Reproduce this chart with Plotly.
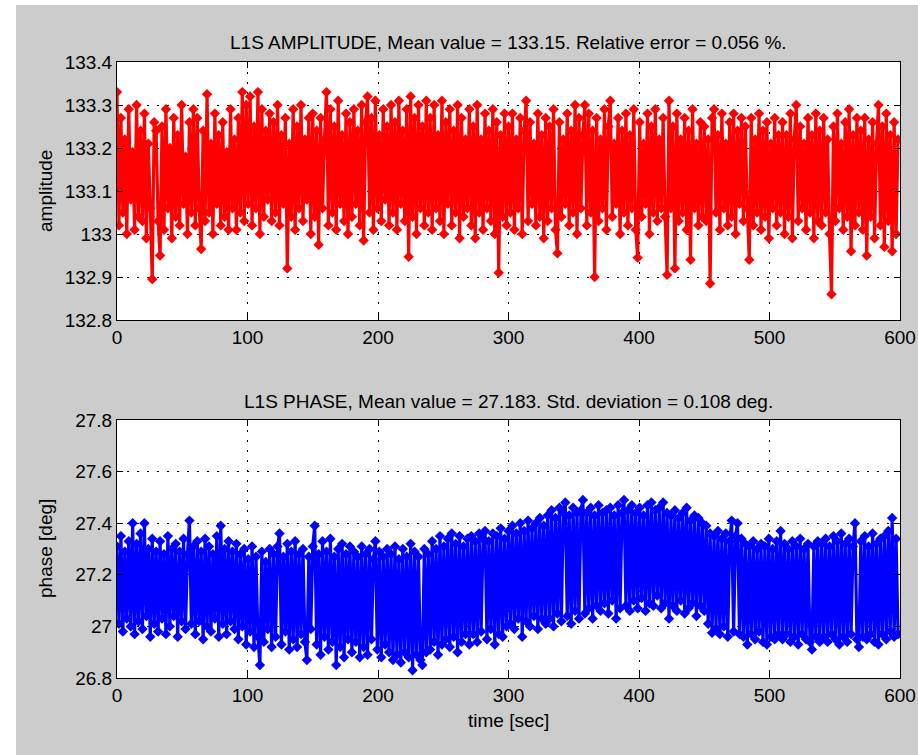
import numpy as np
import plotly.graph_objects as go

# ---------------- data (one sample every 1.5 s) ----------------
amplitude = [
    133.33, 133.02, 133.27, 133.05, 133.22, 133.00, 133.29, 133.08, 133.19, 133.01, 133.30, 133.04, 133.24, 133.03, 133.28, 132.99, 133.21, 133.06, 132.895, 133.26,
    133.24, 133.03, 132.95, 133.25, 133.01, 133.29, 133.06, 133.20, 132.99, 133.27, 133.04, 133.23, 133.02, 133.30, 133.07, 133.18, 133.00, 133.26, 133.05, 133.29,
    133.02, 133.27, 133.06, 132.965, 133.24, 133.03, 133.325, 133.05, 133.21, 133.00, 133.28, 133.07, 133.23, 133.02, 133.26, 133.04, 133.19, 133.01, 133.29, 133.06,
    133.22, 133.01, 133.27, 133.05, 133.33, 133.03, 133.30, 133.07, 133.32, 133.02, 133.25, 133.06, 133.33, 133.00, 133.29, 133.04, 133.24, 133.08, 133.28, 133.03,
    133.26, 133.05, 133.30, 133.02, 133.23, 133.07, 133.27, 132.92, 133.21, 133.04, 133.29, 133.01, 133.25, 133.06, 133.30, 133.03, 133.22, 133.08, 133.27, 133.00,
    133.28, 133.04, 133.24, 132.975, 133.27, 133.06, 133.22, 133.33, 133.02, 133.29, 133.05, 133.25, 133.01, 133.31, 133.07, 133.23, 133.03, 133.28, 133.00, 133.26,
    133.04, 133.29, 133.07, 133.24, 133.02, 133.30, 132.985, 133.26, 133.32, 133.05, 133.27, 133.01, 133.31, 133.06, 133.23, 133.03, 133.29, 133.08, 133.25, 133.02,
    133.30, 133.05, 133.26, 133.01, 133.31, 133.07, 133.24, 133.03, 133.29, 132.947, 133.32, 133.04, 133.27, 133.00, 133.30, 133.06, 133.25, 133.02, 133.31, 133.05,
    133.27, 133.01, 133.30, 133.06, 133.23, 133.03, 133.31, 133.00, 133.26, 133.07, 133.29, 133.02, 133.24, 133.05, 133.30, 132.99, 133.27, 133.04, 133.22, 133.06,
    133.29, 133.02, 133.25, 132.99, 133.30, 133.05, 133.22, 133.01, 133.28, 133.06, 133.24, 133.03, 133.29, 133.00, 133.26, 132.91, 133.23, 133.04, 133.28, 133.02,
    133.25, 133.05, 133.28, 133.01, 133.22, 133.06, 133.27, 133.00, 133.24, 133.31, 133.03, 133.26, 133.07, 133.21, 133.02, 133.28, 133.04, 133.23, 132.99, 133.27,
    133.03, 133.25, 133.06, 133.29, 133.01, 132.955, 133.26, 133.04, 133.22, 133.07, 133.28, 133.02, 133.24, 133.05, 133.30, 133.00, 133.27, 133.06, 133.23, 133.30,
    133.02, 133.28, 133.05, 133.24, 132.90, 133.27, 133.03, 133.22, 133.06, 133.29, 133.01, 133.25, 133.31, 133.04, 133.21, 133.07, 133.27, 133.00, 133.24, 133.05,
    133.28, 133.02, 133.23, 133.06, 133.29, 133.01, 132.945, 133.26, 133.04, 133.21, 133.07, 133.28, 133.00, 133.25, 133.05, 133.29, 133.03, 133.22, 133.06, 133.27,
    133.04, 132.905, 133.31, 133.06, 133.25, 132.92, 133.28, 133.03, 133.22, 133.05, 133.27, 133.01, 133.24, 132.94, 133.29, 133.06, 133.21, 133.02, 133.26, 133.04,
    133.25, 133.03, 133.22, 132.885, 133.27, 133.29, 133.05, 133.23, 133.01, 133.28, 133.06, 133.21, 133.02, 133.26, 133.04, 133.28, 133.00, 133.24, 133.07, 133.27,
    133.03, 133.25, 133.06, 132.94, 133.27, 133.02, 133.22, 133.05, 133.28, 133.01, 133.24, 133.04, 133.26, 132.99, 133.21, 133.06, 133.27, 133.02, 133.23, 133.05,
    133.26, 133.00, 133.23, 133.04, 133.28, 132.99, 133.22, 133.30, 133.03, 133.25, 133.06, 133.21, 133.01, 133.27, 133.05, 133.23, 132.99, 133.28, 133.03, 133.24,
    133.02, 133.27, 133.05, 133.22, 133.00, 132.86, 133.25, 133.03, 133.28, 133.06, 133.21, 133.01, 133.26, 133.04, 133.29, 132.96, 133.23, 133.02, 133.27, 133.05,
    133.24, 133.01, 133.27, 132.95, 133.22, 133.04, 133.26, 132.99, 133.21, 133.30, 133.02, 133.25, 132.97, 133.28, 133.03, 133.23, 132.96, 133.26, 133.00, 133.22,
]

phase = [
    27.31, 27.01, 27.35, 26.98, 27.29, 27.03, 27.33, 27.00, 27.40, 26.97, 27.32, 27.02, 27.36, 26.99, 27.40, 27.04, 27.30, 26.96, 27.34, 27.01,
    27.29, 26.98, 27.33, 27.03, 27.28, 26.97, 27.35, 27.00, 27.30, 27.04, 27.32, 26.96, 27.29, 27.02, 27.34, 26.99, 27.28, 27.41, 27.01, 27.31,
    26.97, 27.33, 27.02, 27.29, 26.95, 27.34, 27.00, 27.31, 26.98, 27.28, 27.03, 27.35, 26.96, 27.39, 27.01, 27.30, 26.97, 27.33, 27.02, 27.29,
    26.99, 27.32, 26.95, 27.28, 27.00, 27.30, 26.93, 27.26, 26.98, 27.31, 26.92, 27.27, 26.96, 26.85, 27.29, 26.94, 27.25, 26.99, 27.30, 26.92,
    27.28, 26.96, 27.31, 27.36, 26.93, 27.27, 26.98, 27.32, 26.91, 27.29, 26.95, 27.33, 26.92, 27.28, 26.97, 27.30, 26.94, 26.87, 27.27, 26.99,
    27.31, 27.39, 26.93, 27.28, 26.89, 27.33, 26.96, 27.29, 26.91, 27.34, 26.94, 27.27, 26.85, 27.30, 26.92, 27.32, 26.88, 27.28, 26.95, 27.31,
    26.90, 27.29, 26.94, 27.27, 26.88, 27.31, 26.92, 27.28, 26.89, 27.30, 26.95, 27.26, 27.33, 26.91, 27.29, 26.88, 27.27, 26.93, 27.30, 26.90,
    27.28, 26.87, 27.31, 26.89, 27.26, 26.86, 27.30, 26.90, 27.27, 26.88, 27.32, 26.83, 27.29, 26.89, 27.27, 26.87, 26.85, 27.30, 26.90, 27.28,
    26.91, 27.33, 26.94, 27.30, 26.89, 27.35, 26.93, 27.31, 26.95, 27.34, 26.92, 27.36, 26.96, 27.32, 26.90, 27.35, 26.94, 27.31, 26.97, 27.34,
    26.93, 27.35, 26.97, 27.33, 26.94, 27.36, 26.98, 27.34, 27.37, 26.95, 27.33, 26.99, 27.36, 26.93, 27.35, 26.97, 27.38, 26.96, 27.34, 27.00,
    27.37, 27.01, 27.39, 26.99, 27.36, 27.03, 27.40, 26.96, 27.37, 27.02, 27.41, 27.00, 27.38, 27.04, 27.40, 26.99, 27.42, 27.03, 27.39, 27.01,
    27.43, 27.03, 27.45, 27.00, 27.42, 27.05, 27.46, 27.02, 27.44, 27.48, 27.04, 27.43, 27.01, 27.46, 27.06, 27.44, 27.03, 27.45, 27.49, 27.05,
    27.44, 27.07, 27.46, 27.03, 27.43, 27.08, 27.47, 27.06, 27.44, 27.09, 27.45, 27.05, 27.46, 27.10, 27.43, 27.03, 27.47, 27.07, 27.44, 27.49,
    27.08, 27.45, 27.06, 27.47, 27.10, 27.44, 27.07, 27.46, 27.11, 27.43, 27.06, 27.47, 27.09, 27.48, 27.08, 27.45, 27.12, 27.46, 27.07, 27.48,
    27.09, 27.44, 27.03, 27.43, 27.08, 27.45, 27.06, 27.42, 27.10, 27.44, 27.05, 27.46, 27.07, 27.41, 27.09, 27.43, 27.04, 27.42, 27.08, 27.40,
    27.06, 27.39, 27.01, 27.36, 26.975, 27.35, 26.99, 27.37, 26.97, 27.34, 27.00, 27.36, 26.96, 27.33, 27.41, 26.98, 27.35, 27.40, 26.97, 27.34,
    26.96, 27.32, 26.93, 27.31, 26.97, 27.33, 26.95, 27.30, 26.98, 27.32, 26.94, 27.31, 26.93, 27.34, 26.96, 27.30, 26.95, 27.33, 26.97, 27.37,
    26.95, 27.32, 26.97, 27.30, 26.94, 27.33, 26.96, 27.31, 26.93, 27.34, 26.97, 27.30, 26.95, 27.32, 26.94, 26.91, 27.31, 26.96, 27.33, 26.94,
    27.32, 26.96, 27.34, 26.94, 27.31, 26.97, 27.35, 26.95, 27.33, 26.93, 27.36, 26.96, 27.32, 26.94, 27.34, 26.97, 27.31, 27.40, 26.95, 26.92,
    27.33, 26.96, 27.35, 26.95, 27.31, 26.97, 27.36, 26.94, 27.32, 26.93, 27.34, 26.97, 27.35, 26.95, 27.37, 26.98, 27.42, 26.96, 27.34, 26.97,
]

sample_step = 1.5
time_amp = np.arange(len(amplitude)) * sample_step
time_phase = np.arange(len(phase)) * sample_step

x_ticks = [0, 100, 200, 300, 400, 500, 600]
x_ticktext = ["0", "100", "200", "300", "400", "500", "600"]
amp_ticks = [132.8, 132.9, 133.0, 133.1, 133.2, 133.3, 133.4]
amp_ticktext = ["132.8", "132.9", "133", "133.1", "133.2", "133.3", "133.4"]
phase_ticks = [26.8, 27.0, 27.2, 27.4, 27.6, 27.8]
phase_ticktext = ["26.8", "27", "27.2", "27.4", "27.6", "27.8"]

title_amp = "L1S AMPLITUDE, Mean value = 133.15. Relative error = 0.056 %."
title_phase = "L1S PHASE, Mean value = 27.183. Std. deviation = 0.108 deg."
xlabel = "time [sec]"
ylabel_amp = "amplitude"
ylabel_phase = "phase [deg]"

# ---------------- figure ----------------
W, H = 918, 755
FONT = "Liberation Sans, Arial, sans-serif"
FS = 19

fig = go.Figure()
fig.add_trace(go.Scatter(
    x=time_amp, y=amplitude, mode="lines+markers",
    line=dict(color="#ff0000", width=3.2, simplify=False),
    marker=dict(symbol="diamond", size=8, color="#ff0000"),
    xaxis="x", yaxis="y", showlegend=False, hoverinfo="x+y"))
fig.add_trace(go.Scatter(
    x=time_phase, y=phase, mode="lines+markers",
    line=dict(color="#0000ff", width=3.2, simplify=False),
    marker=dict(symbol="diamond", size=8, color="#0000ff"),
    xaxis="x2", yaxis="y2", showlegend=False, hoverinfo="x+y"))

def px_x(p):
    return p / W

def px_y(p):
    return 1 - p / H

common = dict(
    showline=True, linecolor="black", linewidth=1, mirror="ticks",
    ticks="inside", ticklen=6, tickwidth=1, tickcolor="black",
    showgrid=True, gridcolor="black", gridwidth=1, griddash="2px,8px",
    zeroline=False, tickfont=dict(family=FONT, size=FS, color="black"),
    fixedrange=True,
)

x_dom = [px_x(117), px_x(900)]
fig.update_layout(
    width=W, height=H,
    margin=dict(l=0, r=0, t=0, b=0, autoexpand=False),
    paper_bgcolor="#cccccc", plot_bgcolor="white",
    font=dict(family=FONT, size=FS, color="black"),
    xaxis=dict(domain=x_dom, anchor="y", range=[0, 600], tickvals=x_ticks, ticktext=x_ticktext, **common),
    yaxis=dict(domain=[px_y(320), px_y(62)], anchor="x", range=[132.8, 133.4],
               tickvals=amp_ticks, ticktext=amp_ticktext, **common),
    xaxis2=dict(domain=x_dom, anchor="y2", range=[0, 600], tickvals=x_ticks, ticktext=x_ticktext, **common),
    yaxis2=dict(domain=[px_y(678), px_y(420)], anchor="x2", range=[26.8, 27.8],
                tickvals=phase_ticks, ticktext=phase_ticktext, **common),
    showlegend=False,
)

cx = px_x((117 + 900) / 2)
ann = [
    dict(text=title_amp, x=cx, y=px_y(42), xanchor="center", yanchor="middle"),
    dict(text=title_phase, x=cx, y=px_y(401), xanchor="center", yanchor="middle"),
    dict(text=xlabel, x=cx, y=px_y(720), xanchor="center", yanchor="middle"),
    dict(text=ylabel_amp, x=px_x(45), y=px_y(191), xanchor="center", yanchor="middle", textangle=-90),
    dict(text=ylabel_phase, x=px_x(45), y=px_y(549), xanchor="center", yanchor="middle", textangle=-90),
]
for a in ann:
    a.update(xref="paper", yref="paper", showarrow=False, font=dict(family=FONT, size=FS, color="black"))
fig.update_layout(annotations=ann)

# white screenshot border (left and top strips)
fig.update_layout(shapes=[
    dict(type="rect", xref="paper", yref="paper", x0=0, x1=px_x(16), y0=0, y1=1,
         fillcolor="white", line=dict(width=0), layer="above"),
    dict(type="rect", xref="paper", yref="paper", x0=0, x1=1, y0=px_y(5), y1=1,
         fillcolor="white", line=dict(width=0), layer="above"),
])

fig.write_html(
    "out.html",
    config={"displayModeBar": False},
    post_script="document.body.style.margin='0';document.body.style.overflow='hidden';",
)
